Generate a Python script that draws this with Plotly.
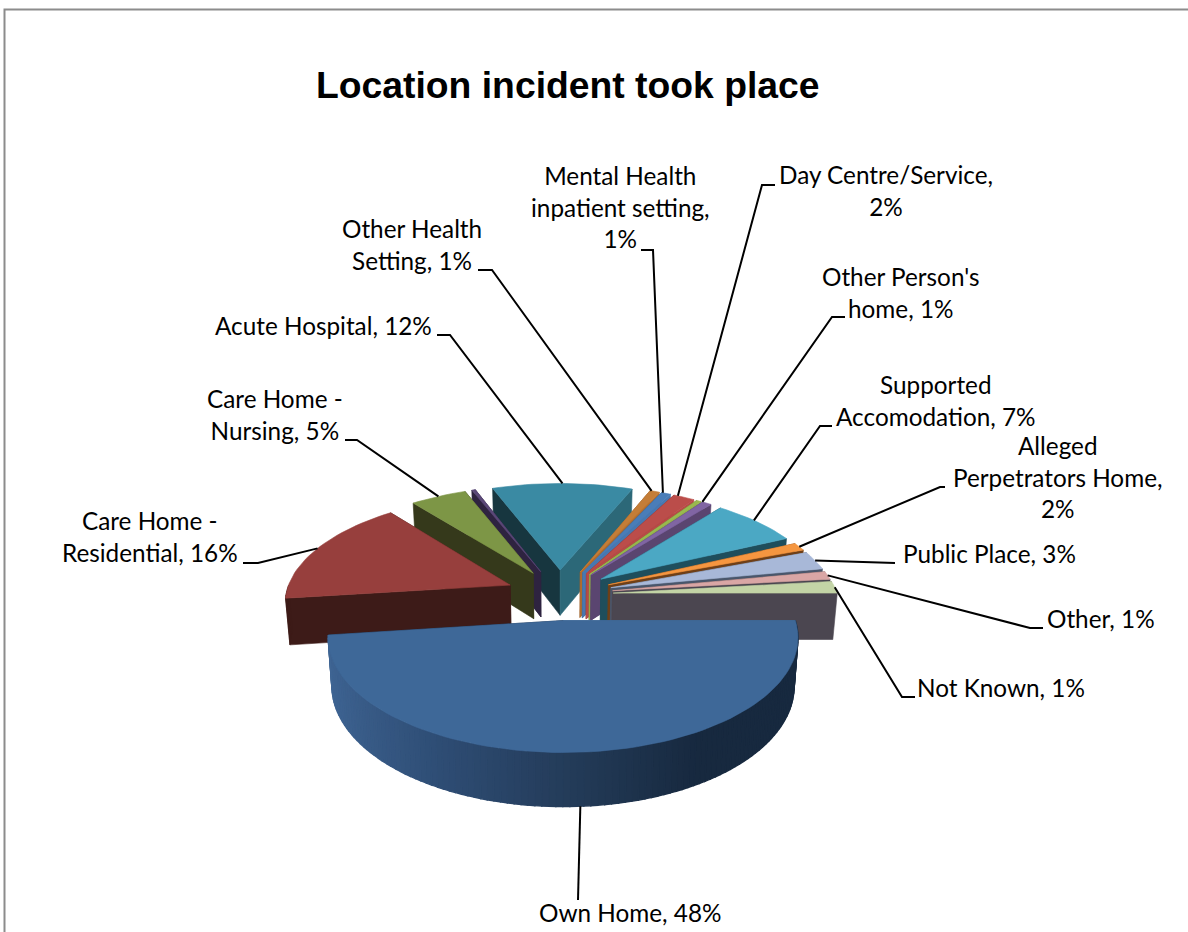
import math
import plotly.graph_objects as go

# ---- data ----
categories = ["Own Home", "Care Home - Residential", "Care Home - Nursing", "Unlabelled A",
              "Acute Hospital", "Other Health Setting", "Mental Health inpatient setting",
              "Day Centre/Service", "Unlabelled B", "Other Person's home",
              "Supported Accomodation", "Alleged Perpetrators Home", "Public Place",
              "Other", "Not Known"]
values = [48.0, 16.3, 4.7, 0.3, 11.8, 0.8, 0.8, 1.8, 0.4, 0.8, 7.3, 1.2, 2.8, 1.2, 1.8]
top_colors = ["#3E6898", "#973F3D", "#7D9646", "#5B4878", "#3A8AA3", "#C47D37", "#4A7DB8",
              "#BB4D4A", "#9AB94F", "#8065A3", "#4BA8C4", "#F59640", "#A8B8D8", "#D9A6A5", "#C3D4A6"]
start_wall = ["#3E6898", "#3D1B18", "#35391B", "#2E2340", "#17363F", "#8A5526", "#2F5076",
              "#6E2C2A", "#5B6E2E", "#463663", "#1F4E5C", "#6F3F17", "#49566B", "#5F4A4A", "#4B4650"]
end_wall = ["#17293F", "#3D1B18", "#35391B", "#2E2340", "#2C6878", "#B06C2E", "#4878B0",
            "#B84A47", "#94B24C", "#5A4570", "#1F4E5C", "#6F3F17", "#49566B", "#4A4650", "#4B4650"]
own_arc_stops = ["#3F6594", "#2F4E76", "#243C5A", "#17293F", "#17293F"]

# label text, centre of the text block, elbow points of its leader line, rim offset in degrees
labels = [
    ("Own Home, 48%", 630, 912, [(578, 900)], 0),
    ("Care Home -<br>Residential, 16%", 150, 536, [(258, 563), (243, 563)], 0),
    ("Care Home -<br>Nursing, 5%", 275, 414, [(357, 440), (345, 440)], 0),
    None,
    ("Acute Hospital, 12%", 323, 325, [(450, 335), (437, 335)], 0),
    ("Other Health<br>Setting, 1%", 412, 244, [(492, 270), (478, 270)], -1),
    ("Mental Health<br>inpatient setting,<br>1%", 620, 207, [(653, 250), (641, 250)], -1),
    ("Day Centre/Service,<br>2%", 886, 190, [(762, 185), (775, 185)], -2),
    None,
    ("Other Person's<br>home, 1%", 900, 292, [(832, 317), (845, 317)], -1.5),
    ("Supported<br>Accomodation, 7%", 936, 400, [(820, 426), (832, 426)], -1),
    ("Alleged<br>Perpetrators Home,<br>2%", 1057, 477, [(940, 487), (945, 487)], 0),
    ("Public Place, 3%", 989, 553, [(895, 563)], 0),
    ("Other, 1%", 1101, 618, [(1030, 628), (1043, 628)], 0),
    ("Not Known, 1%", 1001, 687, [(902, 697), (915, 697)], 0),
]
title_text = "Location incident took place"

# ---- projection of the tilted pie ----
W, H_PAGE = 1188, 932
CX, CY = 559.5, 594.5
B, A, K = 224.5, 105.2, 0.141
EXPLODE, THICK, TAPER = 0.24, 46.5, 0.016
FIRST_ANGLE = 90.0


def project(X, Y):
    p = 1.0 / (1.0 + K * Y)
    return CX + B * X * p, CY - A * Y * p


def drop(X, Y):
    x, y = project(X, Y)
    return CX + (x - CX) * (1 - TAPER), y + THICK / (1.0 + 0.8 * K * Y)


total = sum(values)
slices = []
a = FIRST_ANGLE
for i, v in enumerate(values):
    span = v / total * 360.0
    slices.append((i, a, a + span))
    a += span


def pie_pt(a_deg, mid_deg, r=1.0):
    t, m = math.radians(a_deg), math.radians(mid_deg)
    return EXPLODE * math.sin(m) + r * math.sin(t), EXPLODE * math.cos(m) + r * math.cos(t)


fig = go.Figure()


def poly(pts, color, name, lw=0.6):
    xs = [p[0] for p in pts] + [pts[0][0]]
    ys = [p[1] for p in pts] + [pts[0][1]]
    fig.add_trace(go.Scatter(x=xs, y=ys, mode="lines", fill="toself", fillcolor=color,
                             line=dict(color=color, width=lw), hoverinfo="skip",
                             name=name, showlegend=False))


def hex_rgb(h):
    return tuple(int(h[j:j + 2], 16) for j in (1, 3, 5))


def ramp(stops, f):
    f = max(0.0, min(1.0, f)) * (len(stops) - 1)
    j = min(int(f), len(stops) - 2)
    c0, c1 = hex_rgb(stops[j]), hex_rgb(stops[j + 1])
    u = f - j
    return "rgb(%d,%d,%d)" % tuple(round(c0[n] + (c1[n] - c0[n]) * u) for n in range(3))


def wall(pa, pb, color, name, lw=0.6):
    poly([project(*pa), project(*pb), drop(*pb), drop(*pa)], color, name, lw)


order = sorted(slices, key=lambda s: -math.cos(math.radians((s[1] + s[2]) / 2)))
for i, a0, a1 in order:
    mid = (a0 + a1) / 2
    name = categories[i]
    tip = pie_pt(mid, mid, 0.0)
    p0, p1 = pie_pt(a0, mid), pie_pt(a1, mid)
    walls = [(p0, start_wall[i]), (p1, end_wall[i])]
    walls.sort(key=lambda w: -w[0][1])
    for pt, col in walls:
        wall(tip, pt, col, name)
    # outer rim, only where it faces the viewer
    lo, hi = max(a0, 90.0), min(a1, 270.0)
    if hi > lo:
        n = max(2, int((hi - lo) / 1.5))
        for j in range(n):
            t0, t1 = lo + (hi - lo) * j / n, lo + (hi - lo) * (j + 1) / n
            if i == 0:
                col = ramp(own_arc_stops, (math.sin(math.radians((t0 + t1) / 2)) + 1) / 2)
                lw = 1.4
            else:
                col = start_wall[i]
                lw = 0.6
            wall(pie_pt(t0, mid), pie_pt(t1, mid), col, name, lw)
    n = max(3, int((a1 - a0) / 2))
    arc = [project(*pie_pt(a0 + (a1 - a0) * j / n, mid)) for j in range(n + 1)]
    poly([project(*tip)] + arc, top_colors[i], name)

# leader lines start on each slice's rim
annos = []
for (i, a0, a1), lab in zip(slices, labels):
    if lab is None:
        continue
    text, lx, ly, elbows, rim_offset = lab
    mid = (a0 + a1) / 2
    if 90 < mid < 270:
        start = drop(*pie_pt(mid, mid))
    else:
        start = project(*pie_pt(mid + rim_offset, mid))
    pts = [start] + elbows
    fig.add_trace(go.Scatter(x=[p[0] for p in pts], y=[p[1] for p in pts], mode="lines",
                             line=dict(color="#000000", width=2), hoverinfo="skip",
                             showlegend=False, name=categories[i] + " leader"))
    annos.append(dict(x=lx, y=ly, text=text, showarrow=False, xanchor="center", yanchor="middle",
                      xref="x", yref="y", align="center",
                      font=dict(family="Lato", size=24.3, color="#000000")))

annos.append(dict(x=568, y=85, text="<b>%s</b>" % title_text, showarrow=False, xanchor="center",
                  yanchor="middle", xref="x", yref="y",
                  font=dict(family="Liberation Sans", size=37.3, color="#000000")))

fig.update_layout(
    width=W, height=H_PAGE, margin=dict(l=0, r=0, t=0, b=0),
    paper_bgcolor="#ffffff", plot_bgcolor="#ffffff", showlegend=False,
    xaxis=dict(range=[0, W], visible=False, fixedrange=True),
    yaxis=dict(range=[H_PAGE, 0], visible=False, fixedrange=True),
    annotations=annos,
    shapes=[dict(type="path", xref="x", yref="y",
                 path="M 4.5 932 L 4.5 9.5 L 1188 9.5", line=dict(color="#8C8C8C", width=2))],
)
fig.write_html("out.html", config={"displayModeBar": False},
               post_script="document.body.style.margin='0';document.documentElement.style.overflow='hidden';")
